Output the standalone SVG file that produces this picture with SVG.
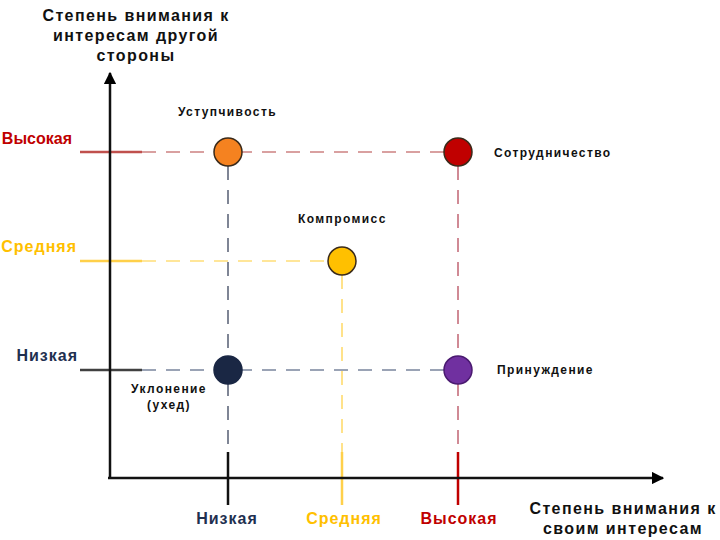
<svg xmlns="http://www.w3.org/2000/svg" width="720" height="540" viewBox="0 0 720 540">
<defs>
<marker id="arr" viewBox="0 0 10 10" refX="9" refY="5" markerWidth="5" markerHeight="5" orient="auto-start-reverse" markerUnits="strokeWidth">
<path d="M0,0 L10,5 L0,10 z" fill="#000"/>
</marker>
<style>
text{font-family:"Liberation Sans",Arial,sans-serif;font-weight:bold}
.t{font-size:16px;fill:#111;letter-spacing:1.4px}
.lbl{font-size:12px;fill:#111;letter-spacing:1.4px}
.lv{font-size:16px;letter-spacing:1px}
.red{fill:#c00000}
.yel{fill:#ffc000}
.nav{fill:#1f3050}
.dash{stroke-width:2;fill:none;stroke-dasharray:14 10}
.sol{stroke-width:2.5;fill:none}
.dot{stroke:#3a2a1a;stroke-width:1.5}
</style>
</defs>
<rect width="720" height="540" fill="#fff"/>
<g id="connectors">
<line x1="80" y1="152" x2="142" y2="152" stroke="#c0504d" class="sol"/>
<line x1="142" y1="152" x2="446" y2="152" stroke="#d9a0a0" class="dash"/>
<line x1="80" y1="261" x2="142" y2="261" stroke="#ffd04a" class="sol" stroke-width="2"/>
<line x1="142" y1="261" x2="330" y2="261" stroke="#ffe699" class="dash"/>
<line x1="80" y1="370" x2="142" y2="370" stroke="#404040" class="sol"/>
<line x1="142" y1="370" x2="446" y2="370" stroke="#9aa3b5" class="dash"/>
<line x1="228" y1="166" x2="228" y2="452" stroke="#7f8595" class="dash"/>
<line x1="228" y1="452" x2="228" y2="505" stroke="#111" class="sol"/>
<line x1="342" y1="275" x2="342" y2="452" stroke="#ffe28a" class="dash"/>
<line x1="342" y1="452" x2="342" y2="505" stroke="#ffd04a" class="sol"/>
<line x1="458" y1="166" x2="458" y2="452" stroke="#d08a95" class="dash"/>
<line x1="458" y1="452" x2="458" y2="505" stroke="#c00000" class="sol"/>
<line x1="110" y1="479" x2="110" y2="73" stroke="#111" stroke-width="2.5" marker-end="url(#arr)"/>
<line x1="108" y1="478" x2="663" y2="478" stroke="#111" stroke-width="2.5" marker-end="url(#arr)"/>
</g>
<g id="axis-y-title">
<text class="t" x="136" y="21" text-anchor="middle">Степень внимания к</text>
<text class="t" x="136" y="41" text-anchor="middle">интересам другой</text>
<text class="t" x="136" y="61" text-anchor="middle">стороны</text>
</g>
<g id="axis-x-title">
<text class="t" x="623" y="514" text-anchor="middle">Степень внимания к</text>
<text class="t" x="623" y="534" text-anchor="middle">своим интересам</text>
</g>
<g id="y-levels">
<text class="lv red" x="72" y="144" text-anchor="end" style="letter-spacing:0px">Высокая</text>
<text class="lv yel" x="77" y="252" text-anchor="end">Средняя</text>
<text class="lv nav" x="78" y="361" text-anchor="end">Низкая</text>
</g>
<g id="x-levels">
<text class="lv nav" x="227" y="524" text-anchor="middle">Низкая</text>
<text class="lv yel" x="344" y="524" text-anchor="middle">Средняя</text>
<text class="lv red" x="459" y="524" text-anchor="middle">Высокая</text>
</g>
<g id="node-ustupchivost">
<circle cx="228" cy="152" r="14" fill="#f58220" class="dot"/>
<text class="lbl" x="178" y="116">Уступчивость</text>
</g>
<g id="node-sotrudnichestvo">
<circle cx="458" cy="152" r="14" fill="#c00000" class="dot"/>
<text class="lbl" x="494" y="157">Сотрудничество</text>
</g>
<g id="node-kompromiss">
<circle cx="342" cy="261" r="14" fill="#ffc000" class="dot"/>
<text class="lbl" x="298" y="223">Компромисс</text>
</g>
<g id="node-uklonenie">
<circle cx="228" cy="370" r="14" fill="#1a2744" stroke="#1a2744" stroke-width="1.5"/>
<text class="lbl" x="169" y="393" text-anchor="middle">Уклонение</text>
<text class="lbl" x="169" y="409" text-anchor="middle">(ухед)</text>
</g>
<g id="node-prinuzhdenie">
<circle cx="458" cy="370" r="14" fill="#7030a0" stroke="#4a1a70" stroke-width="1.5"/>
<text class="lbl" x="497" y="374">Принуждение</text>
</g>
</svg>
